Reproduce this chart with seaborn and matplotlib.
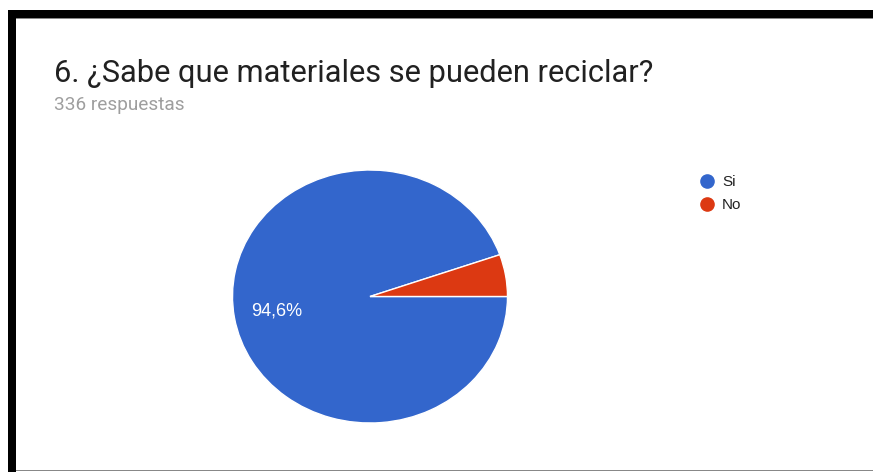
import matplotlib
matplotlib.use("Agg")
import matplotlib.pyplot as plt
from matplotlib.lines import Line2D
from matplotlib.patches import Rectangle
import seaborn as sns

# data
labels = ["Si", "No"]
counts = [318, 18]
colors = ["#3366CC", "#DC3912"]
title = "6. ¿Sabe que materiales se pueden reciclar?"
subtitle = "336 respuestas"

sns.set_theme(style="white")
plt.rcParams['font.family'] = ['Roboto', 'DejaVu Sans']

W, H = 873, 472
fig = plt.figure(figsize=(W / 100, H / 100), dpi=100)
fig.patch.set_facecolor("white")


def px(x0, y0, x1, y1):
    # pixel box (top-left origin) -> figure fraction rect
    return [x0 / W, 1 - y1 / H, (x1 - x0) / W, (y1 - y0) / H]


# frame of the screenshot
fig.patches.append(Rectangle((8 / W, 1 - 18 / H), 1, 8 / H, transform=fig.transFigure,
                             facecolor="black", edgecolor="none"))
fig.patches.append(Rectangle((8 / W, 0), 8 / W, 1 - 10 / H, transform=fig.transFigure,
                             facecolor="black", edgecolor="none"))
fig.patches.append(Rectangle((16 / W, 1 - 19 / H), 1, 1 / H, transform=fig.transFigure,
                             facecolor="#888888", edgecolor="none"))
fig.patches.append(Rectangle((16 / W, 1 - 471 / H), 1, 1.5 / H, transform=fig.transFigure,
                             facecolor="#888888", edgecolor="none"))

fig.text(54 / W, 1 - 82 / H, title, fontsize=22.2, color="#212121", va="baseline")
fig.text(54 / W, 1 - 110 / H, subtitle, fontsize=13.7, color="#9e9e9e", va="baseline")

# pie (slightly stretched horizontally like the screenshot)
pad = 1.1
rx, ry = 137.5, 126.5
cx, cy = 370, 296.5
ax = fig.add_axes(px(cx - rx * pad, cy - ry * pad, cx + rx * pad, cy + ry * pad))


def pct_label(p):
    if p < 10:
        return ""
    return f"{p:.1f}%".replace(".", ",")


wedges, texts, autotexts = ax.pie(
    counts, colors=colors, startangle=0, counterclock=False,
    autopct=pct_label, pctdistance=0.69,
    wedgeprops=dict(edgecolor="white", linewidth=1),
    textprops=dict(color="white", fontsize=13, family=["Liberation Sans", "DejaVu Sans"]),
)
ax.set_aspect("auto")
ax.set_xlim(-pad, pad)
ax.set_ylim(-pad, pad)
ax.axis("off")

# legend
handles = [Line2D([0], [0], marker="o", linestyle="none", markersize=9.5,
                  markerfacecolor=c, markeredgecolor=c) for c in colors]
leg = fig.legend(handles, labels, loc="upper left",
                 bbox_to_anchor=(699 / W, 1 - 175 / H), frameon=False,
                 prop=dict(family=["Liberation Sans", "DejaVu Sans"], size=11),
                 handlelength=1.0, handletextpad=0.5, labelspacing=0.6,
                 borderpad=0, borderaxespad=0)
for t in leg.get_texts():
    t.set_color("#222222")

fig.savefig("out.png", dpi=100)
